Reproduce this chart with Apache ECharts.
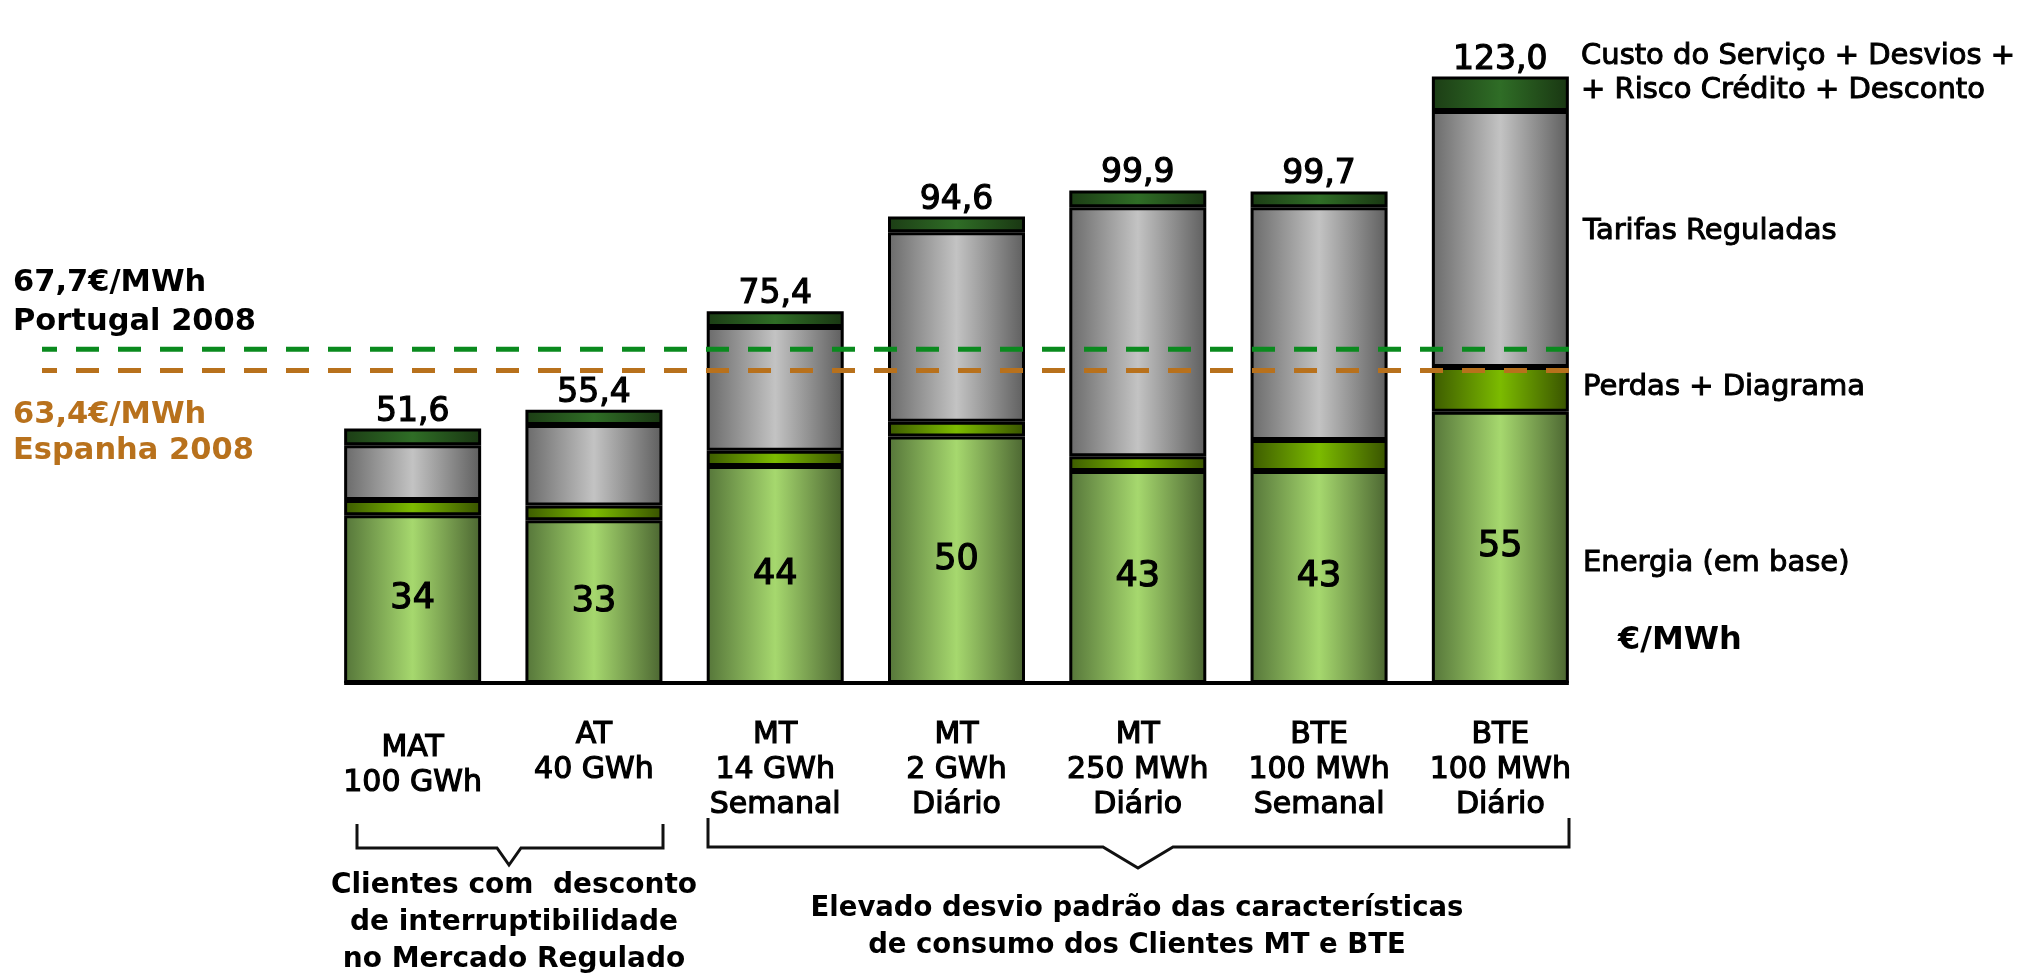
<!DOCTYPE html>
<html>
<head>
<meta charset="utf-8">
<script src="https://cdn.jsdelivr.net/npm/echarts@6/dist/echarts.min.js"></script>
<style>
html, body { margin: 0; padding: 0; background: #fff; }
#chart { width: 2026px; height: 974px; }
</style>
</head>
<body>
<div id="chart"></div>
<script>
// dados (€/MWh)
const categories = ['MAT\n100 GWh', 'AT\n40 GWh', 'MT\n14 GWh\nSemanal', 'MT\n2 GWh\nDiário', 'MT\n250 MWh\nDiário', 'BTE\n100 MWh\nSemanal', 'BTE\n100 MWh\nDiário']
const energia = [34, 33, 44, 50, 43, 43, 55]
const perdas = [3.1, 3.0, 3.1, 3.0, 3.0, 6.3, 9.1]
const tarifas = [11.1, 16.3, 25.1, 38.4, 50.5, 47.2, 51.9]
const custo = [3.4, 3.1, 3.2, 3.2, 3.4, 3.2, 7.0]
const totais = ['51,6', '55,4', '75,4', '94,6', '99,9', '99,7', '123,0']
const refPortugal = 67.7
const refEspanha = 63.4

const FONT = 'DejaVu Sans'
const BAR_W = 137

function grad(a, b, c) {
    return new echarts.graphic.LinearGradient(0, 0, 1, 0, [
        { offset: 0, color: a },
        { offset: 0.5, color: b },
        { offset: 1, color: c }
    ])
}

function barSeries(name, data, colors) {
    return {
        name: name,
        type: 'bar',
        stack: 'total',
        barWidth: BAR_W,
        data: data,
        itemStyle: {
            color: grad(colors[0], colors[1], colors[2]),
            borderColor: '#000',
            borderWidth: 3
        }
    }
}

const sEnergia = barSeries('Energia (em base)', energia, ['#557539', '#a6d86e', '#4b6531'])
sEnergia.label = {
    show: true,
    position: 'inside',
    fontFamily: FONT,
    fontSize: 35,
    color: '#000',
    textBorderColor: '#000',
    textBorderWidth: 1.2
}
const sPerdas = barSeries('Perdas + Diagrama', perdas, ['#3c5a00', '#7cbb00', '#385200'])
const sTarifas = barSeries('Tarifas Reguladas', tarifas, ['#6a6a6a', '#c3c3c3', '#5e5e5e'])
const sCusto = barSeries('Custo do Serviço', custo, ['#1c3d15', '#2f6d26', '#193612'])
sCusto.label = {
    show: true,
    position: 'top',
    distance: 0,
    fontFamily: FONT,
    fontSize: 33,
    color: '#000',
    textBorderColor: '#000',
    textBorderWidth: 1.2,
    formatter: p => totais[p.dataIndex]
}

const option = {
    animation: false,
    backgroundColor: '#fff',
    grid: { left: 322, right: 435, top: 42, bottom: 291 },
    xAxis: {
        type: 'category',
        data: categories.map((c, i) => i === 0 ? { value: c, textStyle: { padding: [13, 0, 0, 0] } } : c),
        axisLine: { show: false },
        axisTick: { show: false },
        axisLabel: {
            margin: 35,
            fontFamily: FONT,
            fontSize: 30,
            lineHeight: 35,
            color: '#000',
            textBorderColor: '#000',
            textBorderWidth: 1.2,
            interval: 0
        }
    },
    yAxis: {
        type: 'value',
        min: 0,
        max: 130,
        show: false,
        splitLine: { show: false }
    },
    series: [sEnergia, sPerdas, sTarifas, sCusto]
}

const chart = echarts.init(document.getElementById('chart'))
chart.setOption(option)

// linhas de referência e anotações, posicionadas pela escala do gráfico
const xFirst = chart.convertToPixel({ xAxisIndex: 0 }, 0) - BAR_W / 2
const xLast = chart.convertToPixel({ xAxisIndex: 0 }, categories.length - 1) + BAR_W / 2
const yBase = chart.convertToPixel({ yAxisIndex: 0 }, 0)
const yPt = chart.convertToPixel({ yAxisIndex: 0 }, refPortugal)
const yEs = chart.convertToPixel({ yAxisIndex: 0 }, refEspanha)

function txt(text, x, y, size, color, weight, align, stroke) {
    const c = color || '#000'
    return {
        type: 'text',
        x: x,
        y: y,
        z: 100,
        style: {
            text: text,
            fontFamily: FONT,
            fontSize: size,
            fontWeight: weight || 'normal',
            fill: c,
            stroke: stroke ? c : null,
            lineWidth: stroke || 0,
            textAlign: align || 'left',
            textVerticalAlign: 'middle'
        }
    }
}

function dashed(y, color) {
    return {
        type: 'line',
        z: 100,
        shape: { x1: 42, y1: y, x2: xLast, y2: y },
        style: { stroke: color, lineWidth: 5, lineDash: [23, 19], lineDashOffset: 8 }
    }
}

chart.setOption({
    graphic: [
        {
            type: 'line',
            z: 100,
            shape: { x1: xFirst, y1: yBase, x2: xLast, y2: yBase },
            style: { stroke: '#000', lineWidth: 4 }
        },
        dashed(yPt, '#0a8a1e'),
        dashed(yEs, '#b8711c'),
        txt('67,7€/MWh', 13, 283, 30.5, '#000', 'bold'),
        txt('Portugal 2008', 13, 322, 30.5, '#000', 'bold'),
        txt('63,4€/MWh', 13, 415, 30.5, '#b8711c', 'bold'),
        txt('Espanha 2008', 13, 451, 30.5, '#b8711c', 'bold'),
        txt('Custo do Serviço + Desvios +', 1581, 56, 29, '#000', 'normal', 'left', 1),
        txt('+ Risco Crédito + Desconto', 1581, 90, 29, '#000', 'normal', 'left', 1),
        txt('Tarifas Reguladas', 1583, 231, 29, '#000', 'normal', 'left', 1),
        txt('Perdas + Diagrama', 1583, 387, 29, '#000', 'normal', 'left', 1),
        txt('Energia (em base)', 1583, 563, 29, '#000', 'normal', 'left', 1),
        txt('€/MWh', 1618, 641, 32, '#000', 'bold'),
        {
            type: 'polyline',
            z: 100,
            shape: { points: [[357, 824], [357, 848], [497, 848], [509, 865], [521, 848], [663, 848], [663, 824]] },
            style: { stroke: '#111', lineWidth: 3, fill: null }
        },
        {
            type: 'polyline',
            z: 100,
            shape: { points: [[708, 818], [708, 847], [1103, 847], [1138, 868], [1173, 847], [1569, 847], [1569, 818]] },
            style: { stroke: '#111', lineWidth: 3, fill: null }
        },
        txt('Clientes com  desconto', 514, 886, 28, '#000', 'bold', 'center'),
        txt('de interruptibilidade', 514, 923, 28, '#000', 'bold', 'center'),
        txt('no Mercado Regulado', 514, 960, 28, '#000', 'bold', 'center'),
        txt('Elevado desvio padrão das características', 1137, 909, 27.5, '#000', 'bold', 'center'),
        txt('de consumo dos Clientes MT e BTE', 1137, 946, 27.5, '#000', 'bold', 'center')
    ]
})
</script>
</body>
</html>
